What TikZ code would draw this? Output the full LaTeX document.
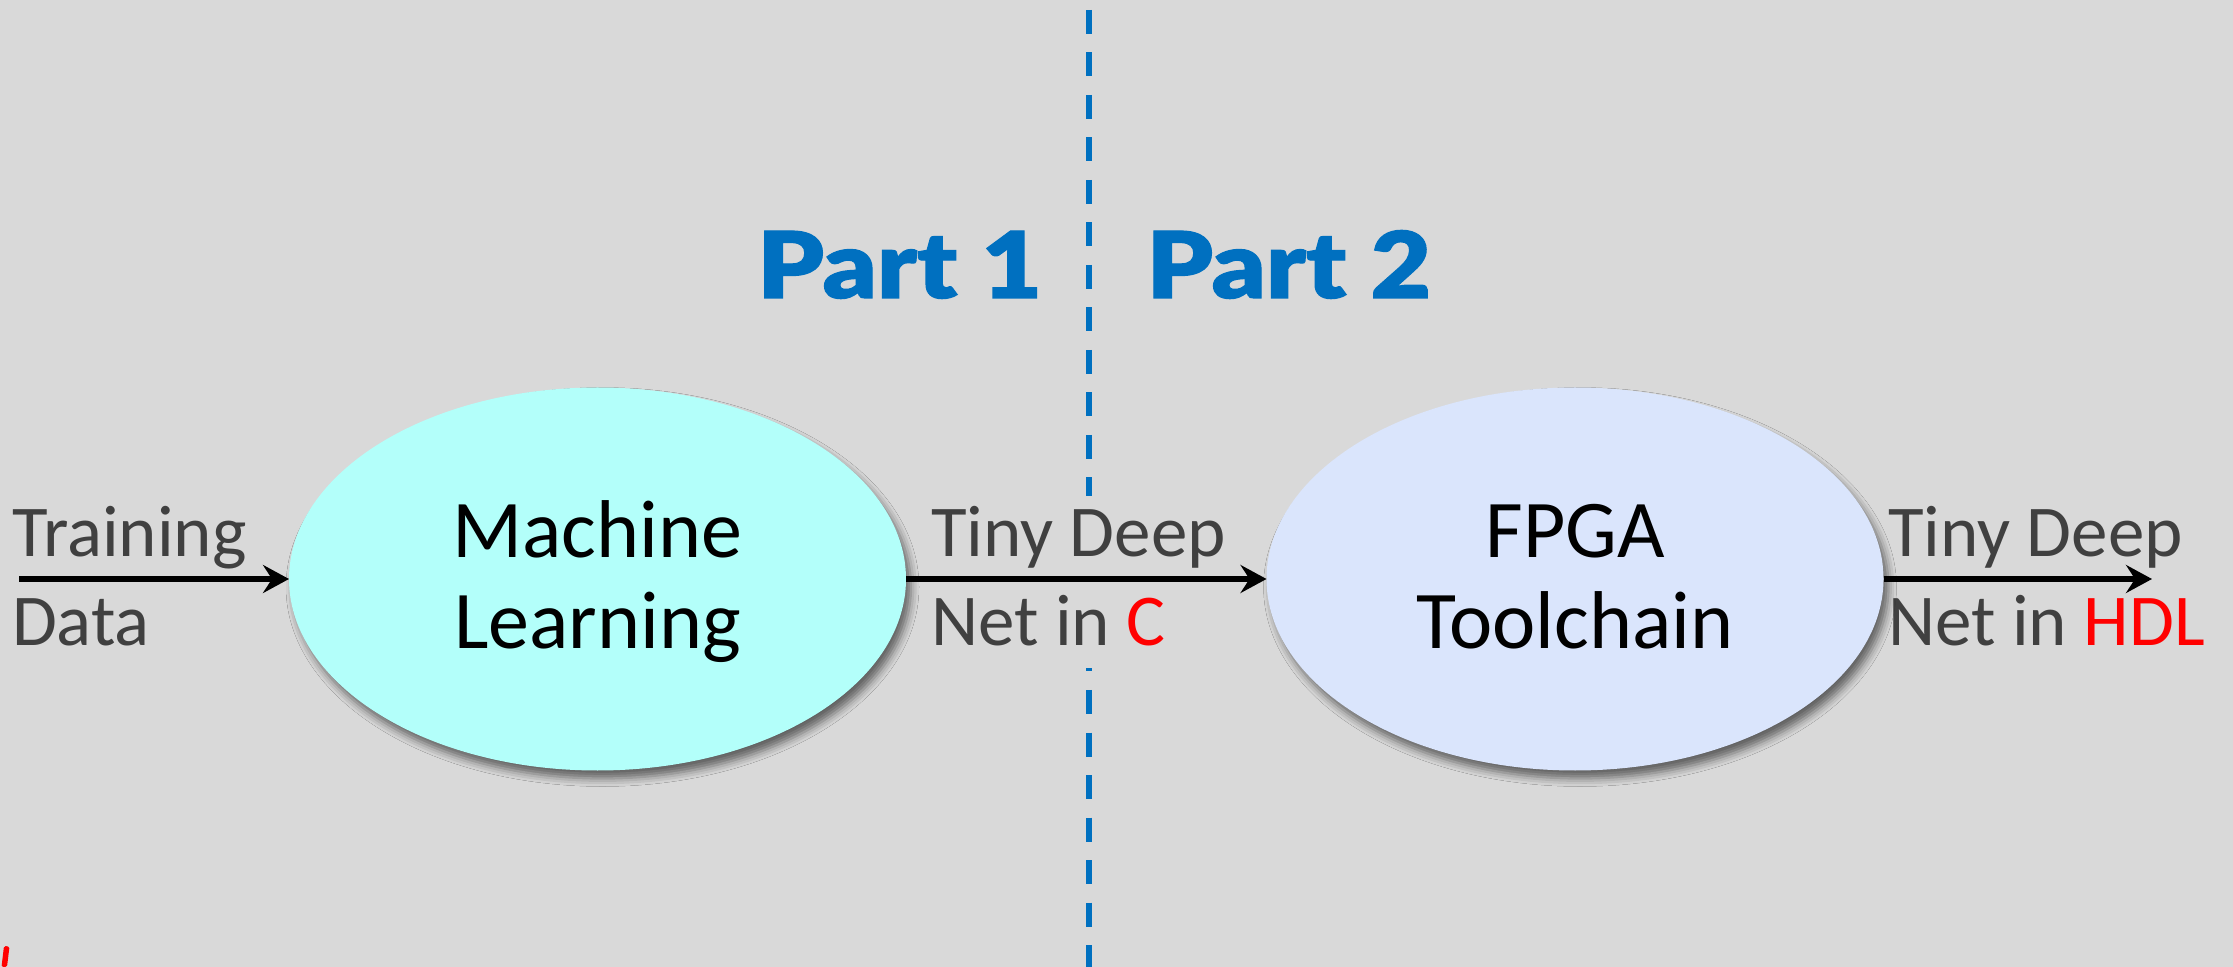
\documentclass[tikz,border=0pt]{standalone}
\usepackage{fontspec}
\setmainfont{Carlito}
\IfFontExistsTF{Lato Black}
  {\newfontfamily\partfont{Lato Black}[FakeBold=1.2, FakeStretch=1.14]}
  {\newfontfamily\partfont{Liberation Sans}[FakeBold=3]}
\usetikzlibrary{arrows.meta,shapes.geometric,shadows.blur}

\definecolor{canvas}{RGB}{217,217,217}
\definecolor{mlfill}{RGB}{179,255,250}
\definecolor{fpfill}{RGB}{218,229,252}
\definecolor{labelgray}{RGB}{64,64,64}
\definecolor{partblue}{RGB}{0,112,192}
\definecolor{hot}{RGB}{255,0,0}

% invisible rules fixing the top of the first line and the bottom of the last
\newcommand\capstrut{\vrule height 30.5pt depth 0pt width 0pt}
\newcommand\tailstrut{\vrule height 0pt depth 11pt width 0pt}
\newcommand\stagetop{\vrule height 32pt depth 0pt width 0pt}
\newcommand\stagetail{\vrule height 0pt depth 8.5pt width 0pt}

\begin{document}
\begin{tikzpicture}[x=0.5pt,y=-0.5pt,
  flowtext/.style={font=\fontsize{36.5}{44.5}\selectfont, text=labelgray,
    inner sep=0pt, outer sep=0pt, align=left, anchor=north west},
  stage/.style={ellipse, minimum width=308.5pt, minimum height=191.5pt,
    inner sep=0pt, outer sep=0pt, align=center, text=black,
    font=\fontsize{41}{45.5}\selectfont,
    blur shadow={shadow xshift=2.5pt, shadow yshift=-4pt,
      shadow blur radius=4pt, shadow opacity=55}},
  flow/.style={line width=3pt, draw=black,
    -{Stealth[length=13pt,width=14pt,inset=4.5pt]}},
  divider/.style={draw=partblue, line width=3.15pt,
    dash pattern=on 12pt off 9.25pt, dash phase=16.25pt},
  parttitle/.style={font=\partfont\fontsize{46}{50}\selectfont,
    text=partblue, inner sep=0pt, anchor=base west}
]
% background and page size
\fill[canvas] (0,0) rectangle (2233,967);
\useasboundingbox (0,0) rectangle (2233,967);

% dashed divider between the two parts
\coordinate (divtop) at (1089,0);
\coordinate (divbot) at (1089,967);
\draw[divider] (divtop) -- (divbot);

% part headings
\node[parttitle] (p1) at (757,298) {Part 1};
\node[parttitle] (p2) at (1146,298) {Part 2};

% flow labels
\node[flowtext] (train) at (12,496) {\capstrut Training\\Data\tailstrut};
\node[flowtext, fill=canvas] (cnet) at (931,496)
  {\capstrut Tiny Deep\\Net in {\color{hot}C}\tailstrut};
\node[flowtext] (hdlnet) at (1888,496)
  {\capstrut Tiny Deep\\Net in {\color{hot}HDL}\tailstrut};

% processing stages
\node[stage, fill=mlfill] (ml) at (597.5,579) {\stagetop Machine\\Learning\stagetail};
\node[stage, fill=fpfill] (fp) at (1575,579) {\stagetop FPGA\\Toolchain\stagetail};

% connectors
\coordinate (src) at (19,579);
\coordinate (sink) at (2152,579);
\draw[flow] (src) -- (ml.west);
\draw[flow] (ml.east) -- (fp.west);
\draw[flow] (fp.east) -- (sink);

% red stroke in the lower left corner
\fill[hot, rounded corners=0.8pt] (4,946) -- (9.5,946.5) -- (7,967) -- (1.5,967) -- cycle;
\end{tikzpicture}
\end{document}
